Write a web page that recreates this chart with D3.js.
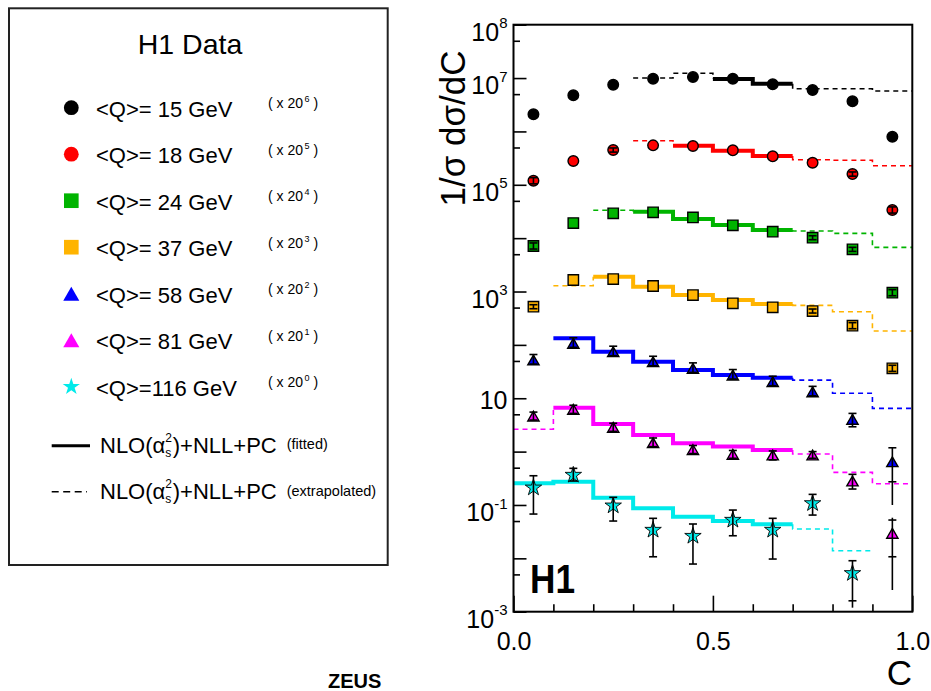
<!DOCTYPE html>
<html>
<head>
<meta charset="utf-8">
<script src="https://cdn.jsdelivr.net/npm/d3@7"></script>
<style>
  body { margin: 0; background: #fff; }
  svg { display: block; }
  text { font-family: "Liberation Sans", Arial, Helvetica, sans-serif; fill: #000; }
</style>
</head>
<body>
<svg id="chart" width="931" height="691"></svg>
<script>
// ---- Event-shape distribution: C parameter, H1 data with NLO+NLL+PC ----
const binCenters = [0.05, 0.15, 0.25, 0.35, 0.45, 0.55, 0.65, 0.75, 0.85, 0.95];
const binEdges   = [0.0, 0.1, 0.2, 0.3, 0.4, 0.5, 0.6, 0.7, 0.8, 0.9, 1.0];

const qLabels     = ["<Q>= 15 GeV", "<Q>= 18 GeV", "<Q>= 24 GeV", "<Q>= 37 GeV",
                     "<Q>= 58 GeV", "<Q>= 81 GeV", "<Q>=116 GeV"];
const scalePowers = [6, 5, 4, 3, 2, 1, 0];

// 1/σ dσ/dC, already multiplied by 20^power
const q15  = [2.09e6, 4.75e6, 7.52e6, 9.72e6, 1.05e7, 9.72e6, 7.64e6, 5.97e6, 3.66e6, 7.96e5];
const q18  = [1.19e5, 2.79e5, 4.49e5, 5.48e5, 5.33e5, 4.43e5, 3.41e5, 2.59e5, 1.59e5, 3.37e4];
const q24  = [7.13e3, 1.92e4, 2.92e4, 3.05e4, 2.45e4, 1.74e4, 1.32e4, 1.02e4, 6.17e3, 951];
const q37  = [519, 1644, 1714, 1268, 859, 601, 506, 431, 229, 36.4];
const q58  = [52.0, 107, 74.5, 48.3, 36.3, 27.2, 20.4, 13.2, 4.03, 0.646];
const q81  = [4.62, 6.19, 2.85, 1.47, 1.09, 0.889, 0.863, 0.863, 0.281, 0.0294];
const q116 = [0.210, 0.364, 0.0968, 0.0339, 0.0261, 0.0522, 0.0339, 0.107, 0.00524, null];

// error bars: [low, high] with caps, or [totalLow, statLow, statHigh, totalHigh]
const q15Err  = [null, null, null, null, null, null, null, null, null, null];
const q18Err  = [[1.04e5, 1.36e5], null, [4.1e5, 4.9e5], null, null, null, null, null,
                 [1.45e5, 1.74e5], [2.95e4, 3.85e4]];
const q24Err  = [[6.25e3, 8.13e3], null, null, null, null, null, null,
                 [9.35e3, 1.11e4], [5.65e3, 6.73e3], [834, 1084]];
const q37Err  = [[476, 566], null, null, null, null, null, null,
                 [395, 470], [201, 261], [31.9, 41.5]];
const q58Err  = [[43.7, 66], [90, 136], [62.7, 94.5], [40.6, 61.2], [30.5, 46], [22.9, 34.5],
                 [17.2, 25.9], [11.1, 16.7], [2.92, 5.2], [0.1, 0.272, 1.18, 1.21]];
const q81Err  = [[3.9, 5.5], [5.2, 7.4], [2.4, 3.4], [1.24, 1.8], [0.92, 1.3], [0.75, 1.05],
                 [0.70, 1.03], [0.75, 1.0], [0.199, 0.375], [0.00255, 0.0107, 0.0522, 0.0577]];
const q116Err = [[0.0676, 0.353], [0.281, 0.486], [0.050, 0.139], [0.0107, 0.0562],
                 [0.00782, 0.0440], [0.0265, 0.0803], [0.0097, 0.0562], [0.0647, 0.158],
                 [0.00119, 0.0016, 0.00902, 0.00902], null];

// NLO(αs²)+NLL+PC prediction per C bin (same scaling)
const nlo15  = [null, null, null, 1.00e7, 1.23e7, 9.60e6, 7.85e6, 6.32e6, 6.30e6, 5.71e6];
const nlo18  = [null, null, null, 6.70e5, 5.41e5, 4.36e5, 3.46e5, 2.95e5, 2.88e5, 2.28e5];
const nlo24  = [null, null, 3.33e4, 3.13e4, 2.29e4, 1.76e4, 1.42e4, 1.36e4, 1.23e4, 6.73e3];
const nlo37  = [null, 1285, 1892, 1230, 859, 693, 583, 551, 418, 182];
const nlo58  = [null, 133, 74.5, 48.3, 33.8, 27.2, 24.3, 21.9, 12.4, 6.47];
const nlo81  = [2.63, 6.64, 3.29, 2.05, 1.43, 1.24, 1.07, 0.902, 0.409, 0.250];
const nlo116 = [0.254, 0.272, 0.137, 0.0865, 0.0603, 0.050, 0.0434, 0.0354, 0.0139, null];

// first bin of the fitted range (fit range ends with bin 0.6–0.7)
const fitFirstBin = [5, 4, 3, 2, 1, 1, 0];
const fitLastBin  = 6;

const yMajorTicks   = [1e-3, 1e-2, 1e-1, 1, 10, 1e2, 1e3, 1e4, 1e5, 1e6, 1e7, 1e8];
const yMinorTicks   = [5e-3, 5e-2, 5e-1, 5, 50, 5e2, 5e3, 5e4, 5e5, 5e6, 5e7];
const yLabelExps    = [8, 7, 5, 3, 1, -1, -3];
const xMinorTicks   = [0.1, 0.2, 0.3, 0.4, 0.6, 0.7, 0.8, 0.9];
const xMajorTicks   = [0.0, 0.5, 1.0];

const colors = ["#000000", "#ff0000", "#00b400", "#ffb400", "#0000ff", "#ff00ff", "#00eaea"];
const shapes = ["circle", "circle", "square", "square", "triangle", "triangle", "star"];

const dataSets = [q15, q18, q24, q37, q58, q81, q116];
const errSets  = [q15Err, q18Err, q24Err, q37Err, q58Err, q81Err, q116Err];
const nloSets  = [nlo15, nlo18, nlo24, nlo37, nlo58, nlo81, nlo116];

// ---- layout ----
const svg = d3.select("#chart");
const plot = { left: 513.5, right: 912.3, top: 24.7, bottom: 611.7 };

const x = d3.scaleLinear().domain([0, 1]).range([plot.left, plot.right]);
const y = d3.scaleLog().domain([1e-3, 1e8]).range([plot.bottom, plot.top]);

const symTypes = { circle: d3.symbolCircle, square: d3.symbolSquare,
                   triangle: d3.symbolTriangle, star: d3.symbolStar };
const plotSizes   = { circle: 88, square: 108, triangle: 55, star: 84 };
const legendSizes = { circle: 172, square: 215, triangle: 112, star: 92 };

// d3 triangles sit on their centroid; shift so the bounding box is centred
function symbolShift(shape, size) {
  return shape === "triangle" ? Math.sqrt(size / (Math.sqrt(3) * 3)) / 2 : 0;
}

// ---- theory step curves ----
const stepLine = d3.line().x(d => x(d[0])).y(d => y(d[1])).curve(d3.curveStepAfter);
const gTheory = svg.append("g");

function binRun(vals, i0, i1) {
  const pts = [];
  for (let k = i0; k <= i1; k++) pts.push([binEdges[k], vals[k]]);
  pts.push([binEdges[i1 + 1], vals[i1]]);
  return pts;
}

nloSets.forEach((vals, s) => {
  const first = vals.findIndex(v => v != null);
  let last = vals.length - 1;
  while (vals[last] == null) last--;
  const f0 = fitFirstBin[s];
  const col = colors[s];
  if (first < f0) {
    const pre = binRun(vals, first, f0 - 1);
    pre.push([binEdges[f0], vals[f0]]);
    gTheory.append("path").attr("d", stepLine(pre)).attr("fill", "none")
      .attr("stroke", col).attr("stroke-width", 1.6).attr("stroke-dasharray", "5,4");
  }
  gTheory.append("path").attr("d", stepLine(binRun(vals, f0, fitLastBin))).attr("fill", "none")
    .attr("stroke", col).attr("stroke-width", 4);
  if (last > fitLastBin) {
    const post = [[binEdges[fitLastBin + 1], vals[fitLastBin]]].concat(binRun(vals, fitLastBin + 1, last));
    gTheory.append("path").attr("d", stepLine(post)).attr("fill", "none")
      .attr("stroke", col).attr("stroke-width", 1.6).attr("stroke-dasharray", "5,4");
  }
});

// ---- data markers ----
const gPts = svg.append("g");
dataSets.forEach((vals, s) => {
  const shape = shapes[s];
  const dy = symbolShift(shape, plotSizes[shape]);
  gPts.append("g").selectAll("path")
    .data(vals.map((v, i) => ({ c: binCenters[i], v })).filter(d => d.v != null))
    .join("path")
    .attr("transform", d => `translate(${x(d.c)},${y(d.v) + dy})`)
    .attr("d", d3.symbol().type(symTypes[shape]).size(plotSizes[shape]))
    .attr("fill", colors[s])
    .attr("stroke", "#000")
    .attr("stroke-width", shape === "star" ? 0.9 : 1.4);
});

// ---- error bars (drawn over markers) ----
const gErr = svg.append("g").attr("stroke", "#000").attr("stroke-width", 1.6);
errSets.forEach(errs => {
  errs.forEach((e, i) => {
    if (!e) return;
    const cx = x(binCenters[i]);
    const lo = e[0], hi = e[e.length - 1];
    const caps = e.length === 2 ? e : [e[1], e[2]];
    gErr.append("line").attr("x1", cx).attr("x2", cx).attr("y1", y(lo)).attr("y2", y(hi));
    caps.forEach(c => gErr.append("line")
      .attr("x1", cx - 4).attr("x2", cx + 4).attr("y1", y(c)).attr("y2", y(c)));
  });
});

// ---- axes ----
const gY = svg.append("g").attr("transform", `translate(${plot.left},0)`);
gY.call(d3.axisLeft(y).tickValues(yMajorTicks).tickSize(-13).tickFormat(""));
gY.append("g").call(d3.axisLeft(y).tickValues(yMinorTicks).tickSize(-6.5).tickFormat(""));
gY.selectAll(".domain").remove();
gY.selectAll("line").attr("stroke", "#000").attr("stroke-width", 1.6);

yLabelExps.forEach(e => {
  const ty = y(Math.pow(10, e));
  const t = svg.append("text").attr("x", 507.5).attr("text-anchor", "end").attr("font-size", 25);
  if (e === 1) {
    t.attr("y", ty + 11).text("10");
  } else {
    t.attr("y", ty + 16).text("10");
    t.append("tspan").attr("font-size", 15).attr("dy", -12.3).text(String(e));
  }
});

const gX = svg.append("g").attr("transform", `translate(0,${plot.bottom})`);
gX.call(d3.axisBottom(x).tickValues(xMinorTicks).tickSize(-7.5).tickFormat(""));
gX.append("g").call(d3.axisBottom(x).tickValues(xMajorTicks).tickSize(-16).tickFormat(d3.format(".1f")));
gX.selectAll(".domain").remove();
gX.selectAll("line").attr("stroke", "#000").attr("stroke-width", 1.6);
gX.selectAll("text").attr("y", 38.3).attr("dy", null)
  .attr("font-size", 25).attr("font-family", "Liberation Sans, Arial, sans-serif").attr("fill", "#000");

// frame
svg.append("rect").attr("x", plot.left).attr("y", plot.top)
  .attr("width", plot.right - plot.left).attr("height", plot.bottom - plot.top)
  .attr("fill", "none").attr("stroke", "#000").attr("stroke-width", 2);

// axis titles
svg.append("text").attr("transform", "translate(465,128.5) rotate(-90)")
  .attr("text-anchor", "middle").attr("font-size", 35).text("1/σ dσ/dC");
svg.append("text").attr("x", 912).attr("y", 685).attr("text-anchor", "end")
  .attr("font-size", 35).text("C");

// experiment tag
svg.append("text").attr("x", 530).attr("y", 593.3).attr("font-size", 40)
  .attr("font-weight", "bold").attr("textLength", 45).attr("lengthAdjust", "spacingAndGlyphs")
  .text("H1");

// ---- legend ----
const lg = svg.append("g");
lg.append("rect").attr("x", 9).attr("y", 8.3).attr("width", 378.7).attr("height", 556.7)
  .attr("fill", "none").attr("stroke", "#222").attr("stroke-width", 2);
lg.append("text").attr("x", 190).attr("y", 54.3).attr("text-anchor", "middle")
  .attr("font-size", 28.5).text("H1 Data");

qLabels.forEach((lab, s) => {
  const by = 116.7 + 46.5 * s;
  const shape = shapes[s];
  const dy = symbolShift(shape, legendSizes[shape]);
  lg.append("path")
    .attr("transform", `translate(71.3,${by - 9 + dy})`)
    .attr("d", d3.symbol().type(symTypes[shape]).size(legendSizes[shape]))
    .attr("fill", colors[s]);
  lg.append("text").attr("x", 96).attr("y", by).attr("font-size", 22).text(lab);
  const st = lg.append("text").attr("y", by - 8.7).attr("font-size", 14);
  st.append("tspan").attr("x", 268).text("( x 20");
  st.append("tspan").attr("x", 304.5).attr("dy", -6).attr("font-size", 9).text(String(scalePowers[s]));
  st.append("tspan").attr("x", 313.5).attr("dy", 6).text(")");
});

function nloLabel(by, note) {
  const t = lg.append("text").attr("x", 100).attr("y", by).attr("font-size", 22);
  t.append("tspan").text("NLO(α");
  t.append("tspan").attr("font-size", 12).attr("dy", -11).text("2");
  t.append("tspan").attr("font-size", 12).attr("dx", -6.7).attr("dy", 15).text("s");
  t.append("tspan").attr("dx", 1.5).attr("dy", -4).text(")+NLL+PC");
  lg.append("text").attr("x", 286.7).attr("y", by - 3.5).attr("font-size", 14.5).text(note);
}
lg.append("line").attr("x1", 51.7).attr("x2", 90).attr("y1", 445.7).attr("y2", 445.7)
  .attr("stroke", "#000").attr("stroke-width", 3);
nloLabel(452.7, "(fitted)");
lg.append("line").attr("x1", 51.7).attr("x2", 87).attr("y1", 491.7).attr("y2", 491.7)
  .attr("stroke", "#000").attr("stroke-width", 1.5).attr("stroke-dasharray", "7,4.5");
nloLabel(499, "(extrapolated)");

// neighbouring figure caption
svg.append("text").attr("x", 328).attr("y", 688).attr("font-size", 20)
  .attr("font-weight", "bold").attr("fill", "#222").text("ZEUS");
</script>
</body>
</html>
